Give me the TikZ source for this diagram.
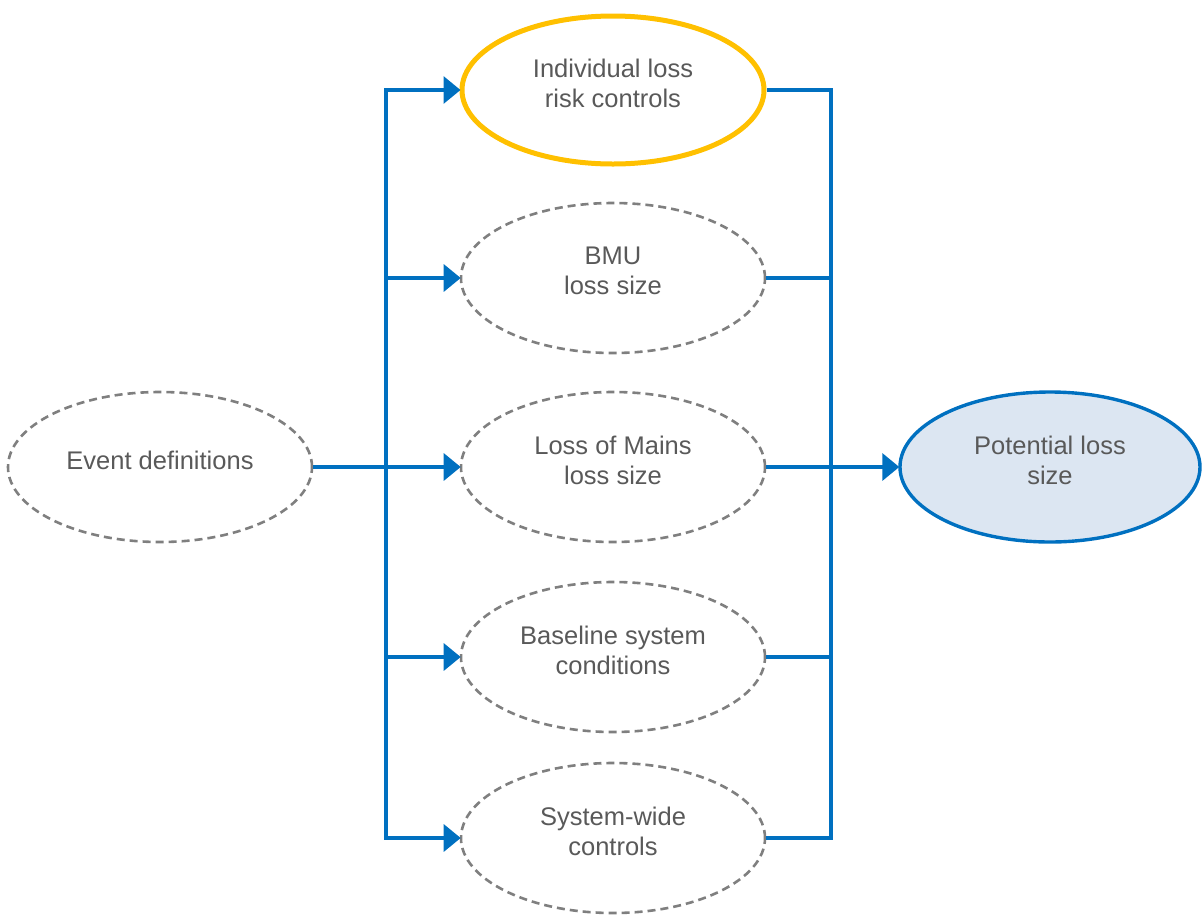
\documentclass[tikz,border=0pt]{standalone}
\usepackage{fontspec}
\setmainfont{Liberation Sans}
\usetikzlibrary{shapes.geometric,arrows.meta}
\definecolor{txtgray}{HTML}{595959}
\definecolor{dashgray}{HTML}{7F7F7F}
\definecolor{lineblue}{HTML}{0070C0}
\definecolor{goldy}{HTML}{FFC000}
\definecolor{paleblue}{HTML}{DCE6F2}
\tikzset{
  oval/.style={ellipse, minimum width=304pt, minimum height=150pt, inner sep=0pt},
  dashoval/.style={oval, draw=dashgray, line width=2.6pt, dash pattern=on 8pt off 5pt},
  lab/.style={text=txtgray, font=\fontsize{25.5}{30}\selectfont, align=center},
  conn/.style={draw=lineblue, line width=3.4pt},
  arr/.style={conn, -{Triangle[length=17pt,width=27pt]}, shorten >=-1pt}
}
\begin{document}
\begin{tikzpicture}[x=1pt,y=-1pt]
\useasboundingbox (0,0) rectangle (1203,914);
\node[dashoval] (e) at (160,467) {};
\node[oval, draw=goldy, line width=5pt, minimum width=302pt, minimum height=148pt] (m1) at (613,90) {};
\node[dashoval] (m2) at (613,278) {};
\node[dashoval] (m3) at (613,467) {};
\node[dashoval] (m4) at (613,657) {};
\node[dashoval] (m5) at (613,838) {};
\node[oval, draw=lineblue, fill=paleblue, line width=3.4pt, minimum width=300pt] (p) at (1050,467) {};
\node[lab] (te) at (160,460) {Event definitions};
\node[lab] (t1) at (613,83) {Individual loss\\risk controls};
\node[lab] (t2) at (613,271) {BMU\\loss size};
\node[lab] (t3) at (613,460) {Loss of Mains\\loss size};
\node[lab] (t4) at (613,650) {Baseline system\\conditions};
\node[lab] (t5) at (613,831) {System-wide\\controls};
\node[lab] (tp) at (1050,460) {Potential loss\\size};
\coordinate (l1) at (386,90);
\coordinate (l2) at (386,278);
\coordinate (l3) at (386,467);
\coordinate (l4) at (386,657);
\coordinate (l5) at (386,838);
\coordinate (r1) at (831,90);
\coordinate (r2) at (831,278);
\coordinate (r3) at (831,467);
\coordinate (r4) at (831,657);
\coordinate (r5) at (831,838);
\draw[conn] (e.east) -- (l3);
\draw[conn, line cap=rect] (l1) -- (l5);
\draw[conn, line cap=rect] (r1) -- (r5);
\foreach \i in {1,...,5}{
  \draw[arr] (l\i) -- (m\i.west);
  \draw[conn] (m\i.east) -- (r\i);
}
\draw[arr] (r3) -- (p.west);
\end{tikzpicture}
\end{document}
